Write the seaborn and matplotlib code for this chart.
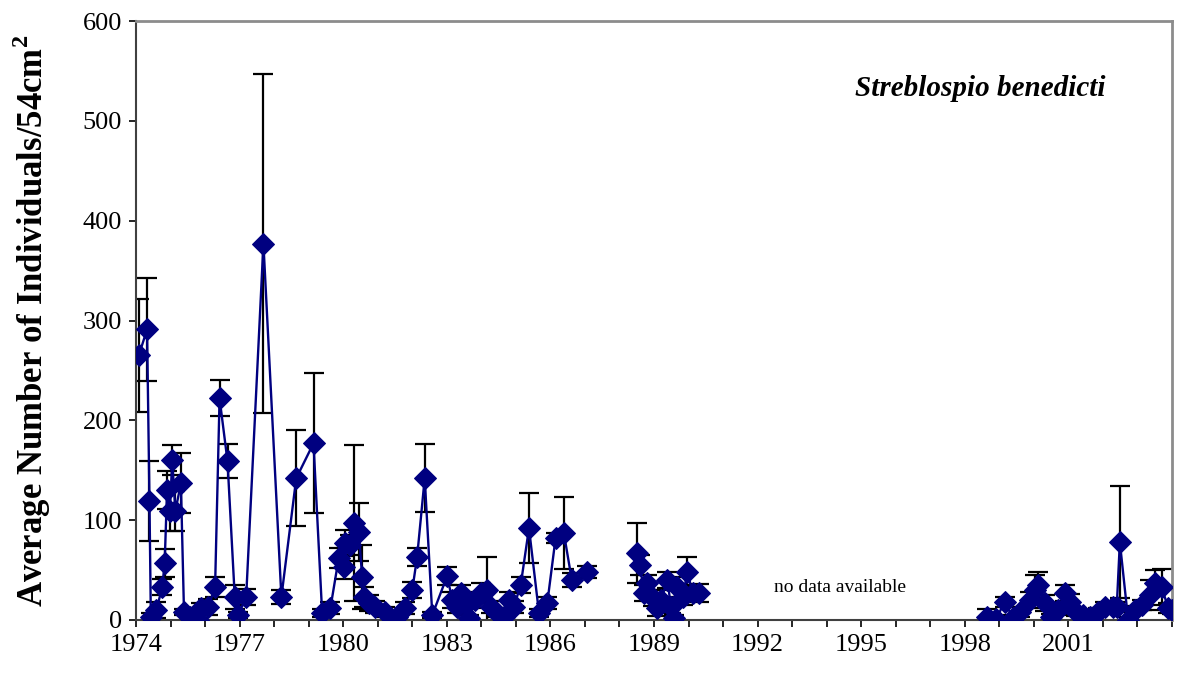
import numpy as np
import pandas as pd
import matplotlib
matplotlib.use("Agg")
import matplotlib.pyplot as plt
import seaborn as sns
from matplotlib.ticker import MultipleLocator

# ---- data ----
years = [1974.08, 1974.32, 1974.39, 1974.43, 1974.59, 1974.76, 1974.83, 1974.90, 1974.98, 1975.05,
         1975.14, 1975.30, 1975.39, 1975.57, 1975.79, 1975.89, 1976.09, 1976.29, 1976.42, 1976.65,
         1976.86, 1976.96, 1977.19, 1977.69, 1978.21, 1978.64, 1979.14, 1979.39, 1979.63, 1979.87,
         1980.01, 1980.06, 1980.21, 1980.30, 1980.45, 1980.55, 1980.60, 1980.74, 1980.93, 1981.22,
         1981.56, 1981.80, 1982.00, 1982.14, 1982.36, 1982.58, 1983.01, 1983.16, 1983.30, 1983.40,
         1983.54, 1983.64, 1983.83, 1983.98, 1984.17, 1984.27, 1984.46, 1984.65, 1984.80, 1984.94,
         1985.14, 1985.38, 1985.67, 1985.91, 1986.15, 1986.39, 1986.62, 1987.05,
         1988.52, 1988.60, 1988.70, 1988.81, 1988.96, 1989.10, 1989.20, 1989.39, 1989.49, 1989.58,
         1989.68, 1989.83, 1989.97, 1990.12, 1990.31,
         1998.65, 1998.91, 1999.15, 1999.40, 1999.59, 1999.88, 2000.02, 2000.12, 2000.31, 2000.51,
         2000.70, 2000.89, 2001.04, 2001.23, 2001.43, 2001.62, 2001.86, 2002.05, 2002.30, 2002.40,
         2002.49, 2002.73, 2002.92, 2003.12, 2003.36, 2003.50, 2003.70, 2003.89, 2003.99]

values = [265, 291, 119, 3, 10, 33, 57, 130, 109, 160,
          109, 137, 8, 3, 0, 12, 13, 33, 222, 159,
          23, 5, 23, 377, 23, 142, 177, 7, 12, 62,
          53, 77, 75, 97, 88, 43, 23, 17, 13, 8,
          3, 12, 30, 63, 142, 5, 44, 20, 13, 27,
          17, 2, 20, 27, 30, 13, 7, 3, 20, 13,
          35, 92, 7, 17, 82, 87, 40, 48,
          67, 55, 27, 37, 22, 12, 20, 40, 13, 2,
          33, 23, 48, 27, 27,
          3, 1, 18, 2, 8, 20, 30, 35, 17, 3,
          10, 27, 18, 8, 5, 3, 8, 13, 13, 13,
          78, 0, 10, 15, 25, 37, 33, 12, 10]

errors = [57, 52, 40, 4, 8, 8, 14, 19, 20, 15,
          20, 30, 3, 2, 2, 5, 8, 10, 18, 17,
          12, 3, 8, 170, 7, 48, 70, 4, 6, 10,
          12, 13, 10, 78, 29, 32, 10, 8, 6, 5,
          3, 6, 8, 9, 34, 3, 9, 8, 6, 8,
          6, 3, 8, 10, 33, 6, 4, 3, 8, 6,
          8, 35, 4, 6, 5, 36, 7, 6,
          30, 10, 8, 8, 8, 8, 10, 8, 6, 3,
          10, 8, 15, 8, 9,
          8, 3, 5, 3, 5, 8, 15, 13, 8, 3,
          5, 8, 8, 4, 3, 3, 4, 5, 5, 5,
          56, 3, 4, 5, 15, 13, 18, 5, 4]

segments = [0] * 68 + [1] * 15 + [2] * 29

y_ticks = [0, 100, 200, 300, 400, 500, 600]
x_ticks = [1974, 1977, 1980, 1983, 1986, 1989, 1992, 1995, 1998, 2001]

df = pd.DataFrame({"year": years, "value": values, "err": errors, "segment": segments})

# ---- style ----
sns.set_theme(style="white")
plt.rcParams["font.family"] = ["Liberation Serif", "DejaVu Serif"]
plt.rcParams["mathtext.fontset"] = "custom"
plt.rcParams["mathtext.rm"] = "Liberation Serif"
plt.rcParams["mathtext.bf"] = "Liberation Serif:bold"
for k in ["text.color", "axes.labelcolor", "xtick.color", "ytick.color"]:
    plt.rcParams[k] = "black"

navy = "#000080"

fig = plt.figure(figsize=(11.82, 6.79), dpi=100)
ax = fig.add_axes([136 / 1182, 1 - 620 / 679, (1172 - 136) / 1182, (620 - 21) / 679])

ax.errorbar(df["year"], df["value"], yerr=df["err"], fmt="none", ecolor="black",
            elinewidth=1.6, capsize=7, capthick=1.6, zorder=2)

sns.lineplot(data=df, x="year", y="value", units="segment", estimator=None, sort=False,
             color=navy, linewidth=1.7, marker="D", markersize=11,
             markeredgecolor=navy, markerfacecolor=navy, ax=ax, zorder=3, legend=False)

ax.set_xlim(1974, 2004)
ax.set_ylim(0, 600)
ax.set_xticks(x_ticks)
ax.set_xticklabels([str(t) for t in x_ticks])
ax.xaxis.set_minor_locator(MultipleLocator(1))
ax.set_yticks(y_ticks)
ax.set_yticklabels([str(t) for t in y_ticks])
ax.tick_params(axis="both", which="both", direction="out", length=5, width=1.2, color="black",
               labelsize=19, bottom=True, left=True, pad=5)
ax.tick_params(axis="x", which="minor", length=5)

for side in ["left", "bottom"]:
    ax.spines[side].set_color("#404040")
    ax.spines[side].set_linewidth(1.5)
for side in ["top", "right"]:
    ax.spines[side].set_color("#8c8c8c")
    ax.spines[side].set_linewidth(2)

ax.set_xlabel("")
ax.set_ylabel(r"Average Number of Individuals/54cm$^{\mathbf{2}}$", fontsize=25,
              fontweight="bold", labelpad=21)

ax.text(1998.45, 532, "Streblospio benedicti", fontsize=21, fontweight="bold",
        fontstyle="italic", ha="center", va="center")
ax.text(1994.4, 33, "no data available", fontsize=14, ha="center", va="center")

fig.savefig("out.png", dpi=100)
